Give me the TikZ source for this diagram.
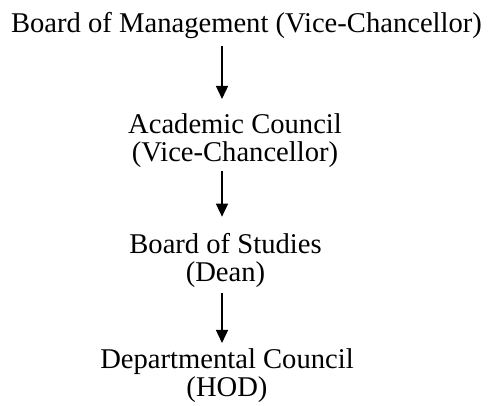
\documentclass[tikz,border=0pt]{standalone}
\usepackage{fontspec}
\setmainfont{Liberation Serif}
\usetikzlibrary{arrows.meta}

\begin{document}
\begin{tikzpicture}[x=1pt,y=-1pt,
  every node/.style={inner sep=0pt,anchor=base,align=center,font=\fontsize{28.6}{28}\selectfont},
  arr/.style={line width=1.5pt,-{Triangle[width=12pt,length=13pt]}}]
\useasboundingbox (0,0) rectangle (492,405);
\node (mgmt) at (246.5,32) {Board of Management (Vice-Chancellor)};
\node (council) at (235,161) {Academic Council\\(Vice-Chancellor)};
\node (studies) at (225.5,281) {Board of Studies\\(Dean)};
\node (dept) at (227,396) {Departmental Council\\(HOD)};
\coordinate (axis) at (222,0);
\draw[arr,shorten <=8pt,shorten >=14pt] (mgmt.south -| axis) -- (council.north -| axis);
\draw[arr,shorten <=4pt,shorten >=16pt] (council.south -| axis) -- (studies.north -| axis);
\draw[arr,shorten <=6pt,shorten >=5pt] (studies.south -| axis) -- (dept.north -| axis);
\end{tikzpicture}
\end{document}
